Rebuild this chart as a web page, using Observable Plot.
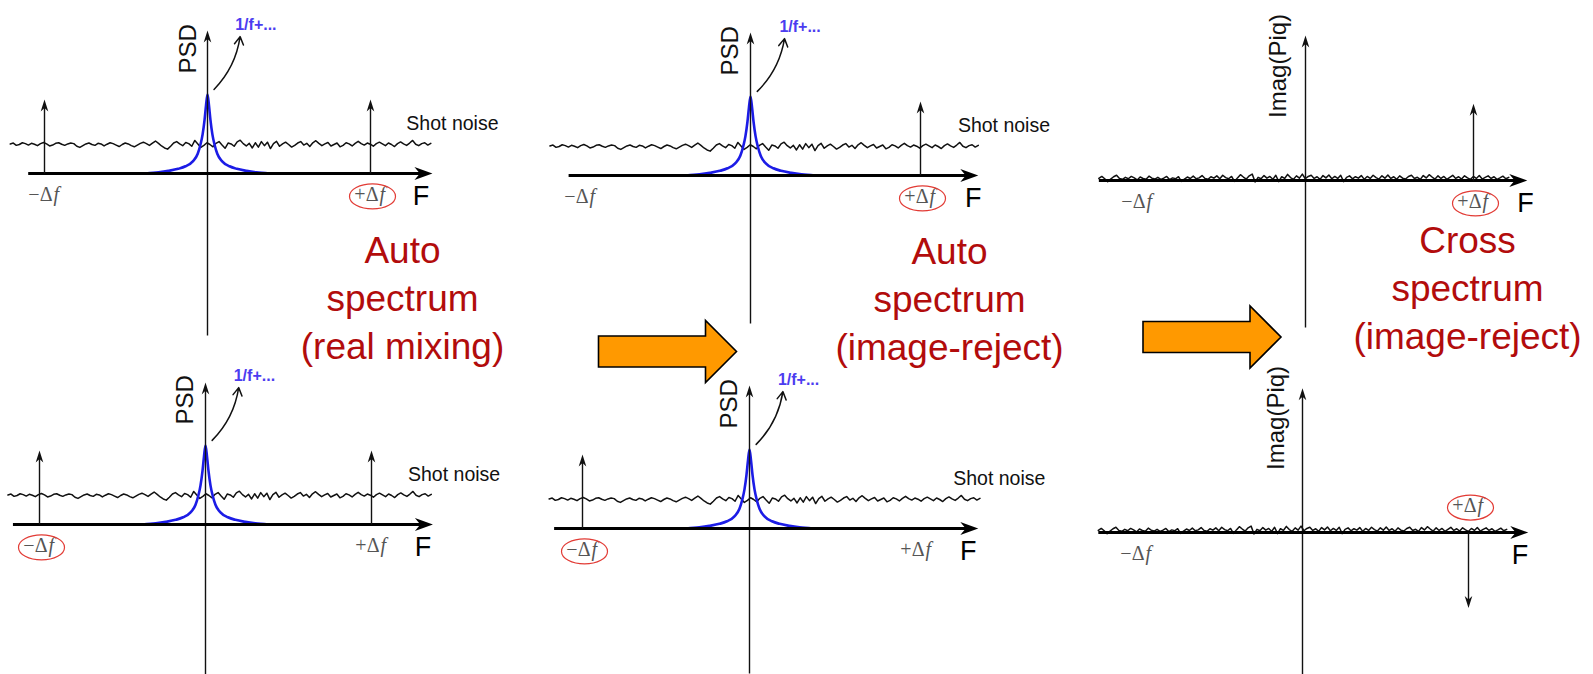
<!DOCTYPE html>
<html><head><meta charset="utf-8">
<script src="https://cdn.jsdelivr.net/npm/d3@7"></script>
<script src="https://cdn.jsdelivr.net/npm/@observablehq/plot@0.6"></script>
<style>html,body{margin:0;padding:0;background:#fff;overflow:hidden}#chart svg{display:block}</style>
</head><body><div id="chart"></div>
<script>
// ================= DATA =================
const panelIds   = ["TL","TM","TR","BL","BM","BR"];
const panelKinds = ["auto","auto","cross","auto","auto","cross"];
const yLabels    = ["PSD","PSD","Imag(Piq)","PSD","PSD","Imag(Piq)"];
// tones (impulses) at ±Δf, in units of Δf, amplitudes in shot-noise units
const toneFreqs  = [[-1,1],[1],[1],[-1,1],[-1],[1]];
const toneAmps   = [[2.55,2.55],[2.55],[2.65],[2.55,2.55],[2.55],[-2.6]];
// which Δf label is circled in each panel
const circled    = ["+","+","+","−","−","+"];
const deltaSigns = ["−","+"];
const deltaFreqs = [-1, 1];
const shotLevel  = 1;
const crossLevel = 0.04;
// shot noise fluctuation
const shotNoise = [0.02,0.05,-0.03,0.00,0.06,0.03,-0.02,0.04,0.01,-0.04,0.03,0.07,0.02,-0.05,-0.02,0.04,0.06,0.01,-0.03,0.02,
0.05,0.03,-0.06,-0.10,-0.04,0.02,0.05,0.00,-0.03,0.04,0.02,-0.05,0.01,0.06,0.03,-0.02,-0.07,0.00,0.05,0.02,
-0.04,-0.08,-0.02,0.04,0.08,0.03,-0.03,0.05,0.12,0.04,-0.05,-0.12,-0.16,-0.06,0.05,0.10,0.02,-0.04,0.07,0.03,
-0.06,0.14,0.02,-0.10,-0.03,0.06,0.00,-0.08,0.04,0.10,-0.02,-0.13,0.05,0.02,-0.06,0.09,0.15,0.03,-0.05,0.04,
-0.12,0.06,-0.09,0.10,-0.04,0.08,-0.14,0.03,0.11,-0.06,0.02,0.08,0.00,-0.09,-0.03,0.05,0.10,-0.02,0.04,-0.07,
0.06,0.13,0.04,-0.04,0.02,0.07,-0.05,0.00,0.05,-0.08,-0.03,0.06,0.02,-0.05,0.04,0.11,0.03,-0.02,0.05,0.01,
-0.06,0.03,0.08,0.02,-0.04,0.05,0.00,-0.07,0.03,0.09,0.02,-0.03,0.05,0.14,0.01,-0.04,0.03,0.06,-0.02,0.04];
// cross-spectrum residual noise
const crossNoise = [0.03,0.10,0.02,-0.08,0.01,0.09,0.14,0.03,0.00,0.07,0.02,0.10,0.05,-0.02,0.08,0.03,0.00,0.11,0.04,0.01,
0.07,0.00,0.04,0.10,-0.01,0.05,0.02,0.09,-0.07,0.01,0.08,0.03,0.11,0.02,0.05,0.13,0.03,0.00,0.09,0.04,
0.12,0.02,0.14,0.06,0.02,0.10,-0.07,0.05,0.16,0.08,0.01,0.12,0.18,-0.09,0.07,0.02,0.13,0.04,0.10,0.00,
0.14,-0.08,0.09,0.03,0.17,0.06,0.00,0.12,0.04,0.18,0.02,0.10,0.14,0.03,0.09,0.00,0.13,0.05,0.15,0.02,
0.10,0.03,0.14,-0.08,0.07,0.12,0.02,0.09,0.04,0.13,0.00,0.10,0.03,0.14,0.06,0.01,0.12,0.04,0.15,0.03,
0.09,0.00,0.12,0.04,0.01,0.10,0.14,0.03,0.07,0.00,0.13,0.05,0.16,0.08,0.01,0.12,0.03,0.10,0.00,0.07,
0.14,0.03,0.09,0.01,0.12,0.05,0.00,0.10,0.03,0.13,0.01,0.07,0.12,0.03,0.09,0.00,0.05,0.11,0.02,0.07];
// 1/f peak (blue)
const flickerF = [-0.38,-0.30,-0.24,-0.18,-0.135,-0.09,-0.06,-0.043,-0.03,-0.018,-0.009,0,0.009,0.018,0.03,0.043,0.06,0.09,0.135,0.18,0.24,0.30,0.38];
const flickerA = [0,0.04,0.09,0.16,0.25,0.42,0.68,1.0,1.35,1.85,2.35,2.72,2.35,1.85,1.35,1.0,0.68,0.42,0.25,0.16,0.09,0.04,0];
const titles = ["Auto\nspectrum\n(real mixing)", "Auto\nspectrum\n(image-reject)", "Cross\nspectrum\n(image-reject)"];
const texts = {flicker: "1/f+...", shot: "Shot noise", axisF: "F"};

// ================= LAYOUT (positions / sizes) =================
const W = 1593, H = 674;
const layout = {
  TL:{cx:207, cy:173, xu:163, yu:29, xl:-1.10, xr:1.38, vt:4.93, vb:-5.59, n0:-1.21, n1:1.37},
  TM:{cx:750, cy:175, xu:170, yu:29, xl:-1.07, xr:1.34, vt:4.93, vb:-5.10, n0:-1.18, n1:1.34},
  TR:{cx:1305,cy:180, xu:168, yu:29, xl:-1.23, xr:1.32, vt:5.00, vb:-5.07, n0:-1.23, n1:1.21},
  BL:{cx:205, cy:524, xu:166, yu:29, xl:-1.16, xr:1.37, vt:4.90, vb:-5.60, n0:-1.19, n1:1.36},
  BM:{cx:749, cy:528, xu:167, yu:29, xl:-1.17, xr:1.37, vt:4.93, vb:-5.00, n0:-1.20, n1:1.38},
  BR:{cx:1302,cy:532, xu:166, yu:29, xl:-1.23, xr:1.36, vt:4.97, vb:-5.00, n0:-1.23, n1:1.23}
};
const titleX = [402, 949, 1467], titleY = [228, 229, 218];
const bigArrowX = [667, 1211.5], bigArrowY = [351, 336.5];

const X = (p,f) => p.cx + f*p.xu;
const Y = (p,a) => p.cy - a*p.yu;

// custom symbols
const stealth = (L, w) => ({draw(ctx){ ctx.moveTo(0,0); ctx.lineTo(w,L); ctx.lineTo(0,L*0.7); ctx.lineTo(-w,L); ctx.closePath(); }});
const ellipse = (rx, ry) => ({draw(ctx){ const k=0.5523;
  ctx.moveTo(rx,0);
  ctx.bezierCurveTo(rx,ry*k,rx*k,ry,0,ry);
  ctx.bezierCurveTo(-rx*k,ry,-rx,ry*k,-rx,0);
  ctx.bezierCurveTo(-rx,-ry*k,-rx*k,-ry,0,-ry);
  ctx.bezierCurveTo(rx*k,-ry,rx,-ry*k,rx,0);
  ctx.closePath(); }});
const blockArrow = {draw(ctx){ const L=69, hb=15.5, hh=31, neck=38;
  ctx.moveTo(-L,-hb); ctx.lineTo(neck,-hb); ctx.lineTo(neck,-hh); ctx.lineTo(L,0);
  ctx.lineTo(neck,hh); ctx.lineTo(neck,hb); ctx.lineTo(-L,hb); ctx.closePath(); }};

// ================= BUILD ROWS =================
const noiseRows = [], blueRows = [], axisX = [], axisY = [], headsR = [], headsU = [],
      toneLinks = [], smallHeadsU = [], smallHeadsD = [], deltaLabels = [], ellipses = [],
      ylab = [], flickLab = [], flickArrow = [], shotLab = [], fLab = [];

panelIds.forEach((id, i) => {
  const p = layout[id];
  const kind = panelKinds[i];
  const nz = kind === "auto" ? shotNoise : crossNoise;
  const base = kind === "auto" ? shotLevel : crossLevel;
  nz.forEach((v, j) => {
    const f = p.n0 + j*(p.n1 - p.n0)/(nz.length - 1);
    noiseRows.push({id, x: X(p,f), y: Y(p, base + v)});
  });
  if (kind === "auto") {
    flickerF.forEach((f, j) => blueRows.push({id, x: X(p,f), y: Y(p, flickerA[j])}));
    flickLab.push({x: X(p,0.17), y: Y(p,5.12)});
    flickArrow.push({x1: X(p,0.04), y1: Y(p,2.9), x2: X(p,0.2), y2: Y(p,4.72)});
    shotLab.push({x: X(p,1.22), y: Y(p,1.7)});
    ylab.push({x: X(p,-0.12), y: Y(p,4.3), t: yLabels[i]});
  } else {
    ylab.push({x: X(p,-0.16), y: Y(p,3.95), t: yLabels[i]});
  }
  axisX.push({x1: X(p,p.xl), x2: X(p,p.xr) - 12, y: Y(p,0)});
  headsR.push({x: X(p,p.xr), y: Y(p,0)});
  axisY.push({x: X(p,0), y1: Y(p,p.vb), y2: Y(p,p.vt) + 7});
  headsU.push({x: X(p,0), y: Y(p,p.vt)});
  toneFreqs[i].forEach((f, j) => {
    const a = toneAmps[i][j];
    const up = a > 0;
    toneLinks.push({x: X(p,f), y1: Y(p,0), y2: Y(p,a) + (up ? 7 : -7)});
    (up ? smallHeadsU : smallHeadsD).push({x: X(p,f), y: Y(p,a)});
  });
  deltaSigns.forEach((s, j) => {
    const f = deltaFreqs[j];
    const k = toneFreqs[i].indexOf(f);
    const below = !(k >= 0 && toneAmps[i][k] < 0);
    const la = below ? -0.72 : 0.93;
    deltaLabels.push({x: X(p,f), y: Y(p,la), sign: s + "Δ"});
    if (circled[i] === s) ellipses.push({x: X(p,f) + 2, y: Y(p,la) + 2});
  });
  fLab.push({x: X(p,1.31), y: Y(p,-0.8)});
});

const titleRows = titles.map((t, i) => ({x: titleX[i], y: titleY[i], t}));
const bigArrows = bigArrowX.map((x, i) => ({x, y: bigArrowY[i]}));

const sans = "Liberation Sans, Arial, Helvetica, sans-serif";
const serif = "Liberation Serif, Times New Roman, serif";

const chart = Plot.plot({
  width: W, height: H, margin: 0,
  x: {domain: [0, W], range: [0, W], axis: null},
  y: {domain: [0, H], range: [0, H], axis: null},
  style: {fontFamily: sans, background: "#fff", overflow: "visible"},
  marks: [
    Plot.line(noiseRows, {x: "x", y: "y", z: "id", stroke: "#111", strokeWidth: 1.5, strokeLinejoin: "round"}),
    Plot.line(blueRows, {x: "x", y: "y", z: "id", stroke: "#1c1ce6", strokeWidth: 2.6, curve: "monotone-x"}),
    Plot.link(axisY, {x1: "x", x2: "x", y1: "y1", y2: "y2", stroke: "#111", strokeWidth: 1.4}),
    Plot.link(axisX, {x1: "x1", x2: "x2", y1: "y", y2: "y", stroke: "#000", strokeWidth: 3}),
    Plot.dot(headsR, {x: "x", y: "y", symbol: stealth(18, 6.5), rotate: 90, fill: "#000", stroke: "none"}),
    Plot.dot(headsU, {x: "x", y: "y", symbol: stealth(12, 3.8), fill: "#111", stroke: "none"}),
    Plot.link(toneLinks, {x1: "x", x2: "x", y1: "y1", y2: "y2", stroke: "#111", strokeWidth: 1.4}),
    Plot.dot(smallHeadsU, {x: "x", y: "y", symbol: stealth(12, 3.8), fill: "#111", stroke: "none"}),
    Plot.dot(smallHeadsD, {x: "x", y: "y", symbol: stealth(12, 3.8), rotate: 180, fill: "#111", stroke: "none"}),
    Plot.arrow(flickArrow, {x1: "x1", y1: "y1", x2: "x2", y2: "y2", bend: -18, stroke: "#111", strokeWidth: 1.5, headLength: 9}),
    Plot.text(flickLab, {x: "x", y: "y", text: () => texts.flicker, textAnchor: "start", fill: "#4b3cf0", fontSize: 16, fontWeight: "bold"}),
    Plot.text(shotLab, {x: "x", y: "y", text: () => texts.shot, textAnchor: "start", fill: "#111", fontSize: 19.5}),
    Plot.text(ylab, {x: "x", y: "y", text: "t", rotate: -90, fill: "#111", fontSize: 24}),
    Plot.text(fLab, {x: "x", y: "y", text: () => texts.axisF, fill: "#000", fontSize: 27}),
    Plot.text(deltaLabels, {x: "x", y: "y", text: "sign", textAnchor: "end", dx: 8, fill: "#555", fontSize: 20, fontFamily: serif}),
    Plot.text(deltaLabels, {x: "x", y: "y", text: () => "f", textAnchor: "start", dx: 9, fill: "#555", fontSize: 20, fontFamily: serif, fontStyle: "italic"}),
    Plot.dot(ellipses, {x: "x", y: "y", symbol: ellipse(23, 12.5), fill: "none", stroke: "#e23b35", strokeWidth: 1.2}),
    Plot.text(titleRows, {x: "x", y: "y", text: "t", lineAnchor: "top", lineHeight: 1.3, fill: "#b20c0c", fontSize: 37}),
    Plot.dot(bigArrows, {x: "x", y: "y", symbol: blockArrow, fill: "#ff9900", stroke: "#000", strokeWidth: 1.6})
  ]
});
document.getElementById("chart").append(chart);
</script>
</body></html>
